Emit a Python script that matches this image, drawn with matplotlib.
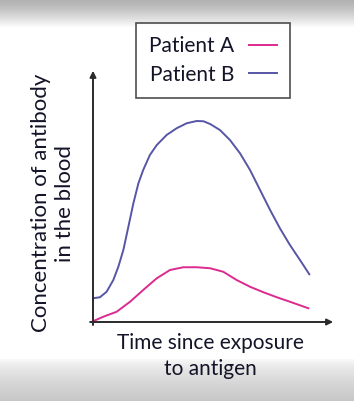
import numpy as np
import matplotlib
matplotlib.use("Agg")
import matplotlib.pyplot as plt
from matplotlib.lines import Line2D

# ---- data (arbitrary units) ----
time_b = [0.01, 0.29, 0.57, 0.85, 1.06, 1.27, 1.48, 1.69, 1.90, 2.10, 2.38, 2.67, 3.08, 3.50,
          3.92, 4.34, 4.62, 4.90, 5.31, 5.73, 6.15, 6.57, 6.99, 7.41, 7.82, 8.24, 8.66, 9.05]
conc_b = [0.95, 0.99, 1.21, 1.68, 2.21, 2.88, 3.81, 4.75, 5.55, 6.08, 6.68, 7.08, 7.48, 7.75,
          7.95, 8.04, 8.03, 7.92, 7.68, 7.28, 6.75, 6.08, 5.28, 4.48, 3.75, 3.08, 2.48, 1.91]
time_a = [0.0, 0.43, 0.99, 1.55, 2.10, 2.67, 3.22, 3.78, 4.34, 4.90, 5.45, 6.01, 6.57, 7.13,
          7.69, 8.24, 9.01]
conc_a = [0.03, 0.21, 0.41, 0.81, 1.28, 1.75, 2.08, 2.19, 2.19, 2.15, 2.01, 1.68, 1.41, 1.19,
          0.99, 0.81, 0.55]
series_labels = ["Patient A", "Patient B"]
x_label = "Time since exposure\nto antigen"
y_label = "Concentration of antibody\nin the blood"

W, H = 354, 401
fig = plt.figure(figsize=(W / 100, H / 100), dpi=100)
fig.patch.set_facecolor("white")
plt.rcParams['font.family'] = ['Lato', 'DejaVu Sans']

# background gradient bands
bg = fig.add_axes([0, 0, 1, 1], zorder=-10)
top = np.arange(H)
g = np.ones(H)
g[:28] = 0.70 + 0.30 * (top[:28] / 27.0) ** 1.3
bot_start = 358
g[bot_start:] = 1.0 - 0.22 * ((top[bot_start:] - bot_start) / (H - bot_start)) ** 0.6
img = np.repeat(g[:, None], 8, axis=1)
bg.imshow(np.dstack([img, img, img]), aspect="auto", extent=[0, 1, 0, 1], origin="upper")
bg.set_axis_off()

# main axes: data 0..10 mapped onto pixel box
x0, x1 = 93, 332
y0, y1 = 322, 72
ax = fig.add_axes([x0 / W, (H - y0) / H, (x1 - x0) / W, (y0 - y1) / H])
ax.set_xlim(0, 10)
ax.set_ylim(0, 10)
ax.set_axis_off()

axis_col = "#2a2a2a"
ax.annotate("", xy=(10.05, 0), xytext=(-0.12, 0), annotation_clip=False,
            arrowprops=dict(arrowstyle="-|>", lw=1.4, color=axis_col, mutation_scale=9,
                            shrinkA=0, shrinkB=0))
ax.annotate("", xy=(0, 10.05), xytext=(0, -0.12), annotation_clip=False,
            arrowprops=dict(arrowstyle="-|>", lw=1.4, color=axis_col, mutation_scale=9,
                            shrinkA=0, shrinkB=0))

col_a = "#dc2a8e"
col_b = "#5656a6"
ax.plot(time_a, conc_a, color=col_a, lw=1.4, clip_on=False, solid_joinstyle="round")
ax.plot(time_b, conc_b, color=col_b, lw=1.4, clip_on=False, solid_joinstyle="round")

FS = 15
handles = [Line2D([], [], color=col_a, lw=1.4), Line2D([], [], color=col_b, lw=1.4)]
leg = fig.legend(handles, series_labels, loc="upper left",
                 bbox_to_anchor=(136 / W, 1 - 23 / H), bbox_transform=fig.transFigure,
                 markerfirst=False, fancybox=False, frameon=True, fontsize=FS,
                 handlelength=1.35, handletextpad=0.7, borderpad=0.62, labelspacing=0.42,
                 borderaxespad=0)
leg.get_frame().set_edgecolor("#222222")
leg.get_frame().set_linewidth(1.2)
for t in leg.get_texts():
    t.set_color("#141428")

txt_col = "#141428"
fig.text(210 / W, 1 - 356 / H, x_label, ha="center", va="center", fontsize=FS,
         color=txt_col, linespacing=1.35)
fig.text(53 / W, 1 - 203 / H, y_label, ha="center", va="center", fontsize=16,
         color=txt_col, rotation=90, linespacing=1.3)

fig.savefig("out.png", dpi=100)
